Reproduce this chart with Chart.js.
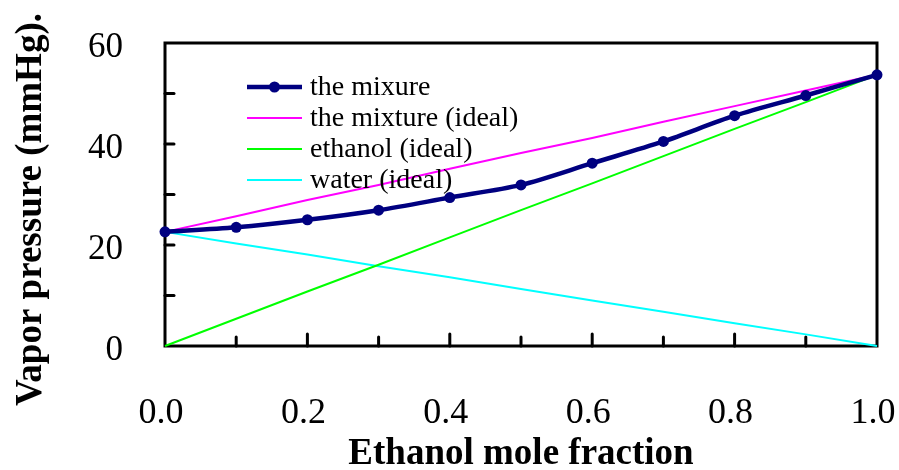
<!DOCTYPE html>
<html><head><meta charset="utf-8">
<script src="https://cdn.jsdelivr.net/npm/chart.js@4/dist/chart.umd.min.js"></script>
<style>html,body{margin:0;padding:0;background:#fff}canvas{display:block}</style>
</head><body><canvas id="c" width="899" height="470"></canvas>
<script>
// ---- data ----
const xFractions   = [0, 0.1, 0.2, 0.3, 0.4, 0.5, 0.6, 0.7, 0.8, 0.9, 1.0];
const mixture      = [22.6, 23.5, 25.0, 26.9, 29.4, 31.9, 36.2, 40.5, 45.6, 49.6, 53.7];
const mixtureIdeal = [22.6, 25.7, 28.9, 31.9, 35.1, 38.2, 41.2, 44.4, 47.5, 50.6, 53.7];
const ethanolIdeal = [0, 5.4, 10.8, 16.1, 21.5, 26.9, 32.2, 37.6, 43.0, 48.3, 53.7];
const waterIdeal   = [22.6, 20.3, 18.1, 15.8, 13.6, 11.3, 9.0, 6.8, 4.5, 2.3, 0];
const seriesNames  = ['the mixure', 'the mixture (ideal)', 'ethanol (ideal)', 'water (ideal)'];
const seriesColors = ['#000080', '#FF00FF', '#00FF00', '#00FFFF'];
const xTickLabels  = ['0.0', '0.2', '0.4', '0.6', '0.8', '1.0'];
const yTickLabels  = ['0', '20', '40', '60'];
const xTitle = 'Ethanol mole fraction';
const yTitle = 'Vapor pressure (mmHg).';

const SERIF = "'Liberation Serif', 'Times New Roman', serif";
const pts = arr => xFractions.map((x, i) => ({x: x, y: arr[i]}));

const framePlugin = {
  id: 'frame',
  beforeDatasetsDraw(chart) {
    const {ctx, chartArea: a, scales: {x, y}} = chart;
    ctx.save();
    ctx.strokeStyle = '#000';
    ctx.lineWidth = 3;
    ctx.lineCap = 'square';
    ctx.strokeRect(a.left, a.top, a.right - a.left, a.bottom - a.top);
    ctx.lineCap = 'round';
    x.ticks.forEach(t => {
      const k = Math.round(t.value * 10);
      if (k <= 0 || k >= 10) return;
      const px = x.getPixelForValue(t.value);
      const len = (k % 2 === 0) ? 12 : 9;
      ctx.beginPath(); ctx.moveTo(px, a.bottom); ctx.lineTo(px, a.bottom - len); ctx.stroke();
    });
    y.ticks.forEach(t => {
      if (t.value <= 0 || t.value >= 60) return;
      const py = y.getPixelForValue(t.value);
      ctx.beginPath(); ctx.moveTo(a.left, py); ctx.lineTo(a.left + 9, py); ctx.stroke();
    });
    ctx.restore();
  },
  afterDatasetsDraw(chart) {
    const {ctx, chartArea: a} = chart;
    ctx.save();
    const x0 = a.left + 82, x1 = a.left + 137, tx = a.left + 145;
    ctx.font = '28px ' + SERIF;
    ctx.textBaseline = 'middle';
    ctx.textAlign = 'left';
    seriesNames.forEach((name, i) => {
      const yy = a.top + 44 + i * 31;
      ctx.strokeStyle = seriesColors[i];
      ctx.lineWidth = i === 0 ? 4.5 : 2;
      ctx.beginPath(); ctx.moveTo(x0, yy); ctx.lineTo(x1, yy); ctx.stroke();
      if (i === 0) {
        ctx.fillStyle = seriesColors[0];
        ctx.beginPath(); ctx.arc((x0 + x1) / 2, yy, 5.5, 0, Math.PI * 2); ctx.fill();
      }
      ctx.fillStyle = '#000';
      ctx.fillText(name, tx, yy + 1);
    });
    ctx.restore();
  },
  afterDraw(chart) {
    const {ctx, chartArea: a} = chart;
    ctx.save();
    ctx.translate(31, (a.top + a.bottom) / 2 + 15);
    ctx.rotate(-Math.PI / 2);
    ctx.font = 'bold 37px ' + SERIF;
    ctx.fillStyle = '#000';
    ctx.textAlign = 'center';
    ctx.textBaseline = 'middle';
    ctx.fillText(yTitle, 0, 0);
    ctx.restore();
  }
};

new Chart(document.getElementById('c'), {
  type: 'line',
  data: {
    datasets: [
      {label: seriesNames[0], data: pts(mixture), borderColor: seriesColors[0], backgroundColor: seriesColors[0],
       borderWidth: 4.5, pointRadius: 5.5, pointBackgroundColor: seriesColors[0], pointBorderWidth: 0, tension: 0.3},
      {label: seriesNames[1], data: pts(mixtureIdeal), borderColor: seriesColors[1], borderWidth: 2, pointRadius: 0, tension: 0},
      {label: seriesNames[2], data: pts(ethanolIdeal), borderColor: seriesColors[2], borderWidth: 2, pointRadius: 0, tension: 0},
      {label: seriesNames[3], data: pts(waterIdeal), borderColor: seriesColors[3], borderWidth: 2, pointRadius: 0, tension: 0}
    ]
  },
  options: {
    responsive: false,
    animation: false,
    devicePixelRatio: 1,
    clip: false,
    layout: {padding: {top: 43, right: 22, left: 0, bottom: 0}},
    plugins: {legend: {display: false}, tooltip: {enabled: false}},
    scales: {
      x: {
        type: 'linear', min: 0, max: 1,
        grid: {display: false},
        border: {display: false},
        ticks: {
          stepSize: 0.1, padding: 38, maxRotation: 0, autoSkip: false, labelOffset: -4,
          color: '#000', font: {family: SERIF, size: 36},
          callback: v => { const k = Math.round(v * 10); return k % 2 === 0 ? xTickLabels[k / 2] : ''; }
        },
        title: {display: true, text: xTitle, color: '#000',
                font: {family: SERIF, size: 37, weight: 'bold', lineHeight: 0.85},
                padding: {top: 0, bottom: 0}},
        afterFit: s => { s.height = 124; s.paddingLeft = 0; s.paddingRight = 0; }
      },
      y: {
        type: 'linear', min: 0, max: 60,
        grid: {display: false},
        border: {display: false},
        ticks: {
          stepSize: 10, padding: 34, autoSkip: false, labelOffset: 5,
          color: '#000', font: {family: SERIF, size: 35},
          callback: v => (v % 20 === 0 ? yTickLabels[v / 20] : '')
        },
        afterFit: s => { s.width = 165; s.paddingTop = 0; s.paddingBottom = 0; }
      }
    }
  },
  plugins: [framePlugin]
});
</script>
</body></html>
